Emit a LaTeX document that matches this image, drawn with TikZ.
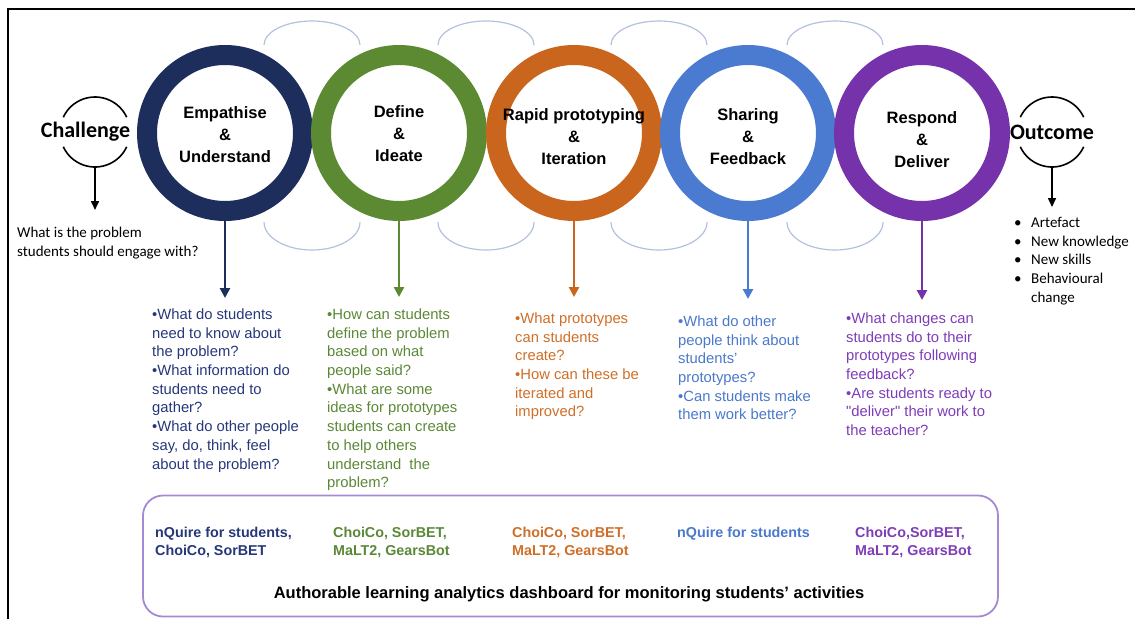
\documentclass[tikz,border=0pt]{standalone}
\usepackage{fontspec}
\setmainfont{Liberation Sans}
\newfontfamily\rawsans{Liberation Sans}
\newfontfamily\calfont{Carlito}
\usetikzlibrary{arrows.meta}
\definecolor{cnavy}{HTML}{1D2D5C}
\definecolor{cgreen}{HTML}{5B8A32}
\definecolor{corange}{HTML}{C9651C}
\definecolor{cblue}{HTML}{4A7BD0}
\definecolor{cpurple}{HTML}{7532AA}
\definecolor{tnavy}{HTML}{26377A}
\definecolor{tgreen}{HTML}{5A8836}
\definecolor{torange}{HTML}{CF6E28}
\definecolor{tblue}{HTML}{4A78CC}
\definecolor{tpurple}{HTML}{7E3CB8}
\definecolor{clink}{HTML}{B4C0E0}
\definecolor{cbox}{HTML}{A38AD2}
\begin{document}
\begin{tikzpicture}[x=1pt,y=1pt,
  ring/.style={circle, draw=#1, line width=20pt, fill=white, minimum size=156pt, inner sep=0pt},
  ringtext/.style={inner sep=0pt, align=center, font=\fontsize{16.5}{22}\selectfont\bfseries},
  linkarc/.style={draw=clink, line width=1.2pt},
  arr/.style={-{Triangle[width=10pt,length=10pt]}, line width=2.5pt, draw=#1},
  blkarr/.style={-{Triangle[width=8pt,length=9pt]}, line width=1.6pt, draw=black},
  blk/.style={anchor=north west, inner sep=0pt, align=left, text=#1, font=\fontsize{14.8}{18.7}\selectfont},
  tool/.style={anchor=north west, inner sep=0pt, align=left, text=#1, font=\fontsize{14.3}{18}\selectfont\bfseries},
  endlabel/.style={inner sep=0pt, font=\calfont\bfseries\fontsize{22}{26}\selectfont},
  endring/.style={circle, minimum size=70pt, inner sep=0pt, outer sep=0pt},
  side/.style={anchor=north west, inner sep=0pt, align=left, font=\calfont\fontsize{15}{18.75}\selectfont}
]
\useasboundingbox (0,0) rectangle (1135,-619);
% frame
\draw[line width=2pt] (8,-619) -- (8,-9) -- (1135,-9);
% linking arcs
\foreach \m in {312,486,659,835}{
  \draw[linkarc] (\m-48,-45) arc[start angle=180,end angle=0,x radius=48,y radius=24];
  \draw[linkarc] (\m-48,-222) arc[start angle=180,end angle=360,x radius=48,y radius=28];
}
% rings
\node[ring=cnavy]   (c1) at (225,-133) {};
\node[ring=cgreen]  (c2) at (399,-133) {};
\node[ring=corange] (c3) at (574,-133) {};
\node[ring=cblue]   (c4) at (748,-133) {};
\node[ring=cpurple] (c5) at (922,-133) {};
\node[ringtext] (t1) at (225,-135) {Empathise\\\&\\Understand};
\node[ringtext] (t2) at (399,-134) {Define\\\&\\Ideate};
\node[ringtext] (t3) at (574,-137) {Rapid prototyping\\\&\\Iteration};
\node[ringtext] (t4) at (748,-137) {Sharing\\\&\\Feedback};
\node[ringtext] (t5) at (922,-140) {Respond\\\&\\Deliver};
% arrows
\coordinate (e1) at (225,-298);
\coordinate (e2) at (399,-297);
\coordinate (e3) at (574,-297);
\coordinate (e4) at (748,-299);
\coordinate (e5) at (922,-300);
\draw[arr=cnavy]   (c1.south) -- (e1);
\draw[arr=cgreen]  (c2.south) -- (e2);
\draw[arr=corange] (c3.south) -- (e3);
\draw[arr=cblue]   (c4.south) -- (e4);
\draw[arr=cpurple] (c5.south) -- (e5);
% question blocks
\node[blk=tnavy] (q1) at (152,-308.5) {•What do students\\need to know about\\the problem?\\•What information do\\students need to\\gather?\\•What do other people\\say, do, think, feel\\about the problem?};
\node[blk=tgreen] (q2) at (327,-308.5) {•How can students\\define the problem\\based on what\\people said?\\•What are some\\ideas for prototypes\\students can create\\to help others\\understand\ \ the\\problem?};
\node[blk=torange] (q3) at (515,-312.5) {•What prototypes\\can students\\create?\\•How can these be\\iterated and\\improved?};
\node[blk=tblue] (q4) at (678,-315.5) {•What do other\\people think about\\students’\\prototypes?\\•Can students make\\them work better?};
\node[blk=tpurple] (q5) at (846,-312.5) {•What changes can\\students do to their\\prototypes following\\feedback?\\•Are students ready to\\{\rawsans "}deliver{\rawsans "} their work to\\the teacher?};
% challenge
\node[endring] (chring) at (95,-132) {};
\node[endlabel] (chal) at (85.5,-132) {Challenge};
\draw[line width=1.6pt] (chring.155) arc[start angle=155,end angle=25,radius=35];
\draw[line width=1.6pt] (chring.205) arc[start angle=205,end angle=335,radius=35];
\coordinate (chend) at (95,-210);
\draw[blkarr] (chring.south) -- (chend);
\node[side] (chq) at (17,-227) {What is the problem\\students should engage with?};
% outcome
\node[endring] (ocring) at (1052,-132) {};
\node[endlabel] (oc) at (1052,-132) {Outcome};
\draw[line width=1.6pt] (ocring.155) arc[start angle=155,end angle=25,radius=35];
\draw[line width=1.6pt] (ocring.205) arc[start angle=205,end angle=335,radius=35];
\coordinate (ocend) at (1052,-207);
\draw[blkarr] (ocring.south) -- (ocend);
\node[side] (ocl) at (1014,-217) {\makebox[17pt][l]{•}Artefact\\\makebox[17pt][l]{•}New knowledge\\\makebox[17pt][l]{•}New skills\\\makebox[17pt][l]{•}Behavioural\\\hspace*{17pt}change};
% dashboard box
\node[draw=cbox, line width=1.8pt, rounded corners=20pt, minimum width=855pt, minimum height=121pt, inner sep=0pt] (dash) at (570.5,-556) {};
\node[tool=tnavy] (k1) at (155,-526.5) {nQuire for students,\\ChoiCo, SorBET};
\node[tool=tgreen] (k2) at (333,-526.5) {ChoiCo, SorBET,\\MaLT2, GearsBot};
\node[tool=torange] (k3) at (512,-526.5) {ChoiCo, SorBET,\\MaLT2, GearsBot};
\node[tool=tblue] (k4) at (677,-526.5) {nQuire for students};
\node[tool=tpurple] (k5) at (855,-526.5) {ChoiCo,SorBET,\\MaLT2, GearsBot};
\node[inner sep=0pt, font=\fontsize{16.5}{19}\selectfont\bfseries] (dl) at (569,-594) {Authorable learning analytics dashboard for monitoring students’ activities};
\end{tikzpicture}
\end{document}
